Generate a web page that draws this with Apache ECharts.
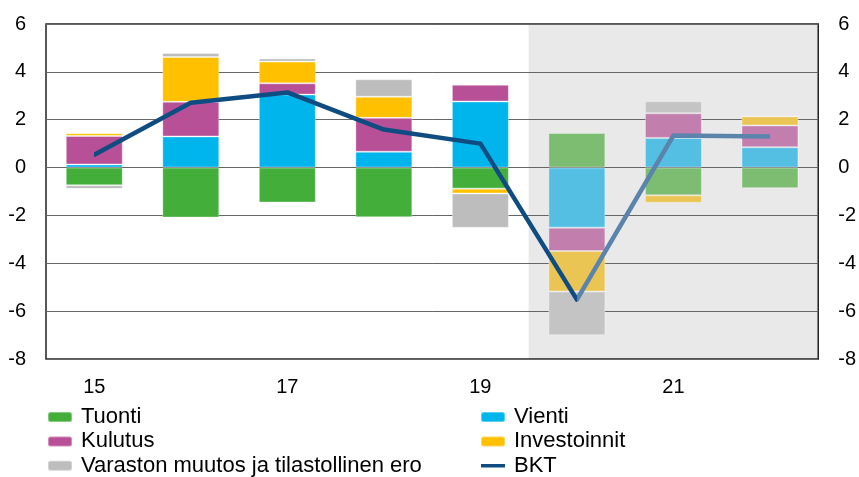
<!DOCTYPE html>
<html>
<head>
<meta charset="utf-8">
<script src="https://cdn.jsdelivr.net/npm/echarts@6/dist/echarts.min.js"></script>
<style>
  html, body { margin: 0; padding: 0; background: #fff; }
  #chart { width: 859px; height: 477px; }
</style>
</head>
<body>
<div id="chart"></div>
<script>
var years = ['15', '16', '17', '18', '19', '20', '21', '22'];
var tuonti = [-0.74, -2.09, -1.46, -2.08, -0.88, 1.45, -1.16, -0.86];
var vienti = [0.13, 1.30, 3.05, 0.66, 2.76, -2.51, 1.24, 0.85];
var kulutus = [1.19, 1.45, 0.47, 1.42, 0.70, -0.98, 1.03, 0.91];
var investoinnit = [0.11, 1.87, 0.91, 0.88, -0.20, -1.69, -0.31, 0.38];
var varasto = [-0.15, 0.17, 0.13, 0.73, -1.44, -1.83, 0.50, 0];
var bkt = [0.54, 2.71, 3.14, 1.59, 1.00, -5.52, 1.34, 1.30];

var firstForecast = 5;
var font = '"Liberation Sans", Arial, sans-serif';

// actual colour, forecast colour
var colors = {
  'Tuonti': ['#43AE3A', '#7CBD72'],
  'Vienti': ['#00B5EB', '#54BFE2'],
  'Kulutus': ['#B75097', '#C27FAE'],
  'Investoinnit': ['#FFC000', '#EAC553'],
  'Varaston muutos ja tilastollinen ero': ['#BDBDBD', '#C4C4C4']
};

function barSeries(name, values) {
  var data = [];
  for (var i = 0; i < values.length; i++) {
    if (i >= firstForecast) {
      data.push({ value: values[i], itemStyle: { color: colors[name][1] } });
    } else {
      data.push(values[i]);
    }
  }
  return {
    name: name,
    type: 'bar',
    stack: 'total',
    barWidth: '59%',
    itemStyle: {
      color: colors[name][0],
      borderColor: 'rgba(255,255,255,0.35)',
      borderWidth: 1
    },
    data: data
  };
}

var chart = echarts.init(document.getElementById('chart'));

var legendText = { fontFamily: font, fontSize: 22, color: '#000', lineHeight: 22, padding: [0, 0, 0, 4] };
var lineIcon = 'path://M0,0L0.01,0ZM0,3.2L24,3.2L24,6.8L0,6.8ZM0,10L0.01,10Z';

var option = {
  animation: false,
  textStyle: { fontFamily: font },
  grid: {
    left: 46, right: 40, top: 24, bottom: 118,
    show: true, borderColor: '#222', borderWidth: 1.5
  },
  legend: [
    {
      orient: 'vertical', left: 47, top: 406, padding: 0,
      itemWidth: 24, itemHeight: 10, itemGap: 2.4,
      textStyle: legendText,
      data: ['Tuonti', 'Kulutus', 'Varaston muutos ja tilastollinen ero']
    },
    {
      orient: 'vertical', left: 480, top: 406, padding: 0,
      itemWidth: 24, itemHeight: 10, itemGap: 2.4,
      textStyle: legendText,
      data: ['Vienti', 'Investoinnit',
        { name: 'BKT', icon: lineIcon, itemStyle: { color: '#0F4C81' } }]
    }
  ],
  xAxis: [
    {
      type: 'category',
      data: years,
      axisLine: { show: false },
      axisTick: { show: false },
      axisLabel: { interval: 1, fontSize: 20, color: '#000', margin: 18, fontFamily: font }
    },
    {
      type: 'value', min: 0, max: 8, show: false
    }
  ],
  yAxis: [
    {
      type: 'value', min: -8, max: 6, interval: 2,
      axisLine: { show: false },
      axisTick: { show: false },
      axisLabel: { fontSize: 20, color: '#000', margin: 20, fontFamily: font },
      splitLine: { lineStyle: { color: '#666', width: 1 } }
    },
    {
      type: 'value', min: -8, max: 6, interval: 2, position: 'right',
      axisLine: { show: false },
      axisTick: { show: false },
      axisLabel: { fontSize: 20, color: '#000', margin: 20, fontFamily: font },
      splitLine: { show: false }
    }
  ],
  visualMap: {
    type: 'piecewise',
    show: false,
    seriesIndex: 5,
    dimension: 0,
    pieces: [
      { gte: 0, lt: firstForecast - 0.5, color: '#0F4C81' },
      { gte: firstForecast - 0.5, lte: years.length - 1, color: '#5B84AD' }
    ]
  },
  series: [
    barSeries('Tuonti', tuonti),
    barSeries('Vienti', vienti),
    barSeries('Kulutus', kulutus),
    barSeries('Investoinnit', investoinnit),
    barSeries('Varaston muutos ja tilastollinen ero', varasto),
    {
      name: 'BKT',
      type: 'line',
      data: bkt,
      showSymbol: false,
      symbol: 'none',
      z: 5,
      lineStyle: { width: 4.5, cap: 'round', join: 'round' }
    },
    {
      name: 'ennuste',
      type: 'line',
      xAxisIndex: 1,
      data: [],
      silent: true,
      markArea: {
        silent: true,
        z: -1,
        itemStyle: { color: '#E9E9E9' },
        data: [[{ xAxis: firstForecast }, { xAxis: 8 }]]
      }
    }
  ]
};

chart.setOption(option);
</script>
</body>
</html>
